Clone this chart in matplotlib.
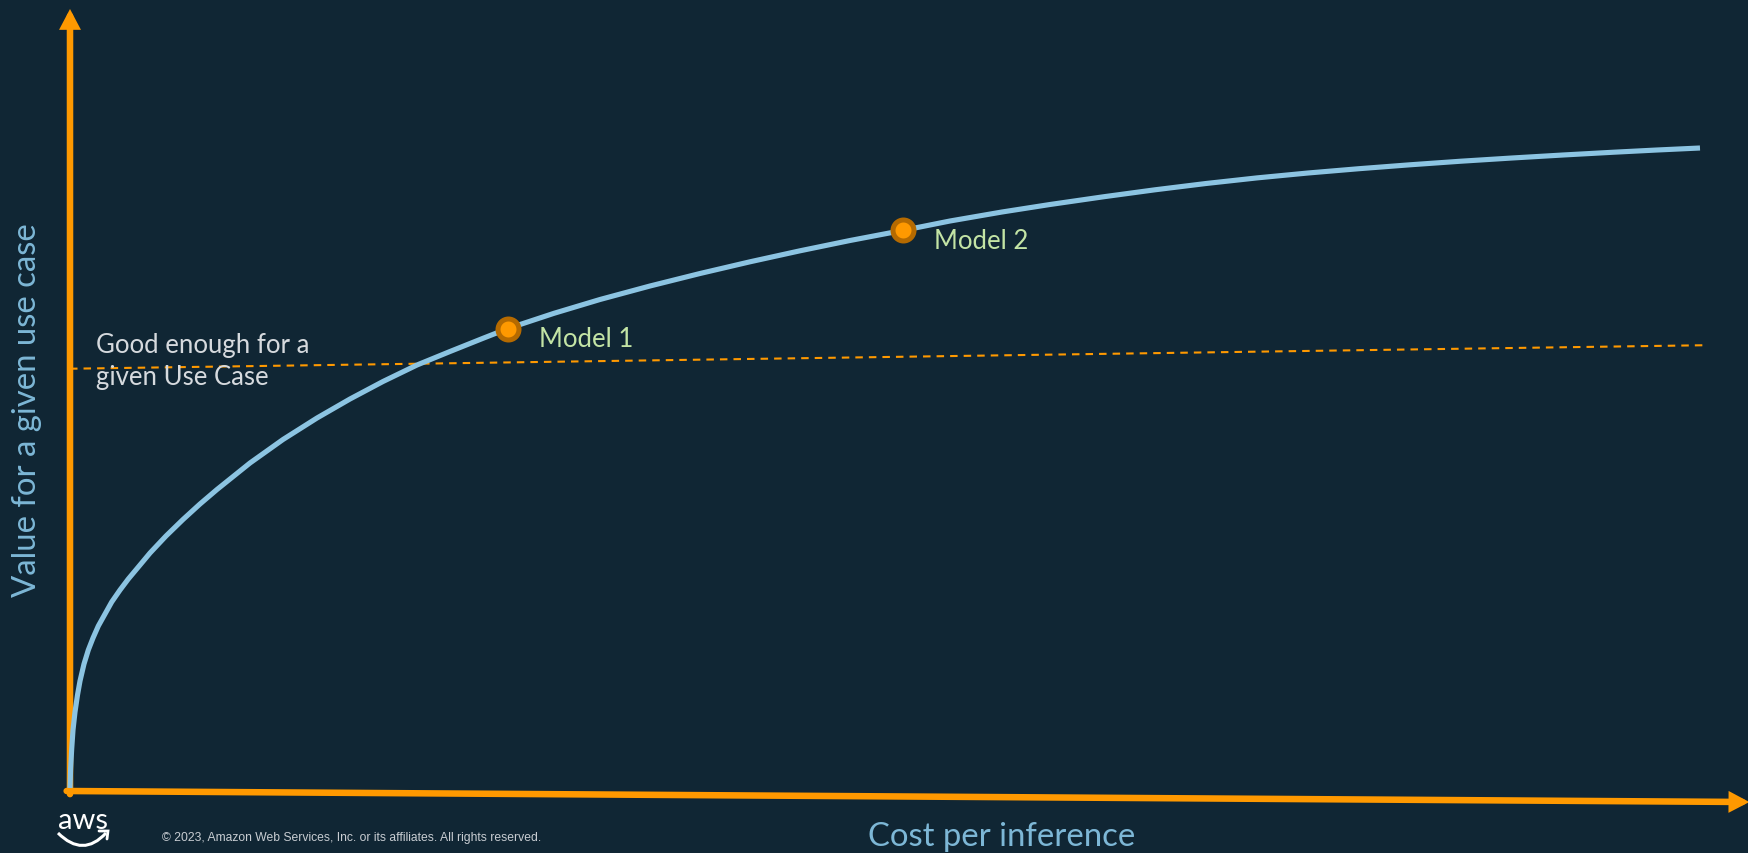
"""
Value vs cost per inference curve, dark slide style
"""
import matplotlib
matplotlib.use('Agg')
import matplotlib.pyplot as plt
import matplotlib.patches as patches
from matplotlib.path import Path

plt.rcParams['font.family'] = ['Lato', 'DejaVu Sans']

# colours
BG = '#102634'
ORANGE = '#FF9900'
ORANGE_DARK = '#B56A00'
CURVE = '#8CC4E2'
AXIS_TXT = '#7DB7D6'
MODEL_TXT = '#C3E4A5'
NOTE_TXT = '#D6DADE'

# curve (cost 0..100, value 0..100)
cost = [0, 0.036, 0.101, 0.179, 0.298, 0.447, 0.596, 0.834, 1.091, 1.371,
        1.687, 2.086, 2.485, 2.98, 3.474, 4.172, 4.768, 5.721, 6.734, 7.747,
        8.76, 10.727, 12.694, 14.72, 16.687, 18.653, 20.68, 22.646, 24.613,
        26.103, 28.844, 31.585, 34.565, 37.545, 40.524, 43.504, 46.484,
        49.642, 52.443, 55.542, 58.403, 61.621, 64.66, 67.7, 70.739, 73.778,
        76.818, 79.857, 82.896, 85.936, 88.975, 92.014, 94.577, 97.139]
value = [0.384, 2.813, 5.371, 7.801, 10.102, 12.276, 14.066, 16.24, 18.031,
         19.565, 21.1, 22.634, 24.169, 25.703, 27.11, 28.9, 30.435, 32.609,
         34.719, 36.701, 38.555, 41.944, 44.949, 47.698, 50.128, 52.366,
         54.476, 56.202, 57.89, 59.143, 61.087, 62.852, 64.578, 66.176,
         67.673, 69.079, 70.396, 71.688, 72.89, 74.041, 75.0, 75.997, 76.88,
         77.685, 78.402, 79.028, 79.578, 80.077, 80.537, 80.946, 81.33,
         81.688, 81.969, 82.225]

model_names = ['Model 1', 'Model 2']
model_cost = [26.103, 49.642]
model_value = [59.143, 71.688]

threshold_cost = [0, 97.3]
threshold_value = [54.0, 57.0]
threshold_label = ['Good enough for a', 'given Use Case']

x_label = 'Cost per inference'
y_label = 'Value for a given use case'
copyright_txt = '© 2023, Amazon Web Services, Inc. or its affiliates. All rights reserved.'

W, H = 1748, 854
fig = plt.figure(figsize=(W / 100, H / 100), dpi=100, facecolor=BG)
ax = fig.add_axes([70 / W, 62 / H, 1678 / W, 782 / H])
ax.set_xlim(0, 100)
ax.set_ylim(0, 100)
ax.axis('off')

# orange axis arrows
arrow_kw = dict(arrowstyle='-|>,head_length=0.38,head_width=0.2',
                mutation_scale=20, color=ORANGE, lw=4.7,
                shrinkA=0, shrinkB=0, joinstyle='miter')
ax.annotate('', xy=(0, 1.0), xytext=(0, -0.004),
            xycoords='axes fraction', arrowprops=arrow_kw, annotation_clip=False)
ax.annotate('', xy=(1.0008, -0.0141), xytext=(-0.002, 0),
            xycoords='axes fraction', arrowprops=arrow_kw, annotation_clip=False)

# threshold
ax.plot(threshold_cost, threshold_value, color=ORANGE, lw=1.5,
        linestyle=(0, (3.6, 2.9)), zorder=2, clip_on=False)
ax.text(1.55, 56.1, threshold_label[0], fontsize=18.5, color=NOTE_TXT,
        va='baseline', ha='left', zorder=4)
ax.text(1.55, 52.05, threshold_label[1], fontsize=18.5, color=NOTE_TXT,
        va='baseline', ha='left', zorder=4)

# value curve
ax.plot(cost, value, color=CURVE, lw=3.7, solid_capstyle='butt',
        solid_joinstyle='round', zorder=3, clip_on=False)

# models
ax.plot(model_cost, model_value, 'o', ms=15.1, mew=3.6, mfc=ORANGE,
        mec=ORANGE_DARK, zorder=5, clip_on=False)
for name, c, v in zip(model_names, model_cost, model_value):
    ax.annotate(name, (c, v), xytext=(22.3, -12.5), textcoords='offset points',
                fontsize=18.5, color=MODEL_TXT, va='baseline', ha='left')

# axis titles
fig.text(1002 / W, 8 / H, x_label, fontsize=23.7, color=AXIS_TXT,
         ha='center', va='baseline')
fig.text(36 / W, 1 - 410 / H, y_label, fontsize=23.7, color=AXIS_TXT,
         rotation=90, rotation_mode='anchor', ha='center', va='baseline')

# footer
fig.text(162 / W, 13 / H, copyright_txt, fontsize=8.75, color='#C8CDD2',
         family=['Liberation Sans', 'DejaVu Sans'], va='baseline')

# aws logo (pixel overlay)
lg = fig.add_axes([0, 0, 1, 1])
lg.set_xlim(0, W)
lg.set_ylim(H, 0)
lg.axis('off')
lg.text(83, 829, 'aws', fontsize=21, color='white', ha='center', va='baseline')
smile = Path([(58, 834), (83, 859), (106, 834)],
             [Path.MOVETO, Path.CURVE3, Path.CURVE3])
lg.add_patch(patches.PathPatch(smile, fill=False, edgecolor='white', lw=2.2))
hook = Path([(99, 832), (108, 832), (107, 840)],
            [Path.MOVETO, Path.LINETO, Path.LINETO])
lg.add_patch(patches.PathPatch(hook, fill=False, edgecolor='white', lw=2.0,
                               joinstyle='miter', capstyle='round'))

fig.savefig('out.png', dpi=100, facecolor=BG)
